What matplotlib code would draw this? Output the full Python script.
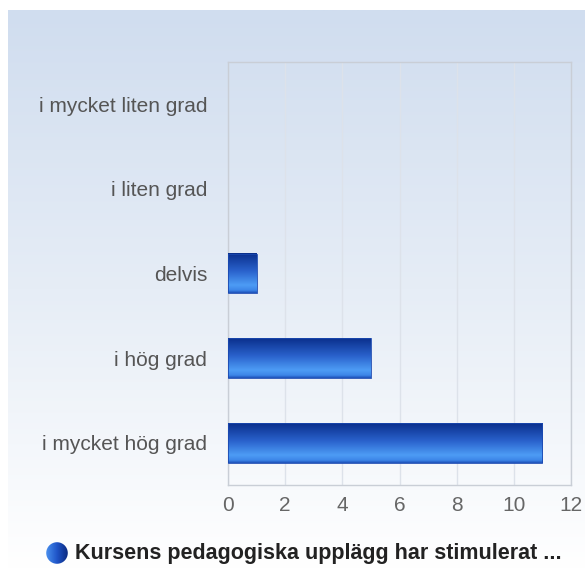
import numpy as np
import matplotlib as mpl
mpl.use('Agg')
import matplotlib.pyplot as plt
from matplotlib.colors import LinearSegmentedColormap

# data
categories = ['i mycket liten grad', 'i liten grad', 'delvis', 'i hög grad', 'i mycket hög grad']
counts = [0, 0, 1, 5, 11]
x_ticks = [0, 2, 4, 6, 8, 10, 12]
legend_label = 'Kursens pedagogiska upplägg har stimulerat ...'

plt.rcParams['font.family'] = ['Liberation Sans', 'DejaVu Sans']

W, H = 585, 569
fig = plt.figure(figsize=(W / 100, H / 100), dpi=100)
fig.patch.set_facecolor('white')

# background gradient panel
bg = fig.add_axes([8 / W, 0, 1 - 8 / W, 1 - 10 / H], zorder=0)
grad = np.linspace(0, 1, 256).reshape(-1, 1)
bg_cmap = LinearSegmentedColormap.from_list('bg', ['#d0ddef', '#e6edf6', '#ffffff'])
bg.imshow(grad, aspect='auto', cmap=bg_cmap, extent=[0, 1, 0, 1], origin='upper')
bg.set_axis_off()

ax = fig.add_axes([228 / W, 1 - 485 / H, (571 - 228) / W, (485 - 62) / H], zorder=1)
ax.patch.set_alpha(0)

y = np.arange(len(categories))
bar_h = 0.47
bars = ax.barh(y, counts, height=bar_h, color='none', edgecolor='none')

# vertical gradient inside each bar: dark top, light near bottom, dark edge
bar_cmap = LinearSegmentedColormap.from_list(
    'bar', [(0, '#0a2f8c'), (0.45, '#2a62cc'), (0.8, '#4d9cf5'), (0.93, '#3d86e8'), (1, '#1c4fb8')])
for b in bars:
    w = b.get_width()
    if w <= 0:
        continue
    y0 = b.get_y()
    hh = b.get_height()
    ax.imshow(grad, aspect='auto', cmap=bar_cmap, origin='upper',
              extent=[0, w, y0 + hh, y0], zorder=3, interpolation='bilinear')
    ax.add_patch(plt.Rectangle((0, y0), w, hh, fill=False, edgecolor='#1a48b0',
                               linewidth=0.6, zorder=4))

ax.set_xlim(0, 12)
ax.set_ylim(len(categories) - 0.5, -0.5)
ax.set_xticks(x_ticks)
ax.set_yticks(y)
ax.set_yticklabels(categories)
ax.grid(axis='x', color='#dde2ea', linewidth=1)
ax.set_axisbelow(True)
for s in ax.spines.values():
    s.set_color('#c9ced6')
    s.set_linewidth(1)
ax.tick_params(axis='both', length=0)
ax.tick_params(axis='y', labelsize=15, labelcolor='#555555', pad=15)
ax.tick_params(axis='x', labelsize=15, labelcolor='#666666', pad=8)

# legend: sphere-ish marker with horizontal shading
sphere = fig.add_axes([46 / W, 1 - 564 / H, 22 / W, 22 / H], zorder=2)
sx = np.linspace(0, 1, 64)
sphere_cmap = LinearSegmentedColormap.from_list('sph', ['#4a90ee', '#1f55c8', '#0b2a80'])
im = sphere.imshow(np.tile(sx, (64, 1)), cmap=sphere_cmap, extent=[-1, 1, -1, 1],
                   interpolation='bilinear')
clip = plt.Circle((0, 0), 0.98, transform=sphere.transData)
im.set_clip_path(clip)
sphere.set_xlim(-1, 1)
sphere.set_ylim(-1, 1)
sphere.set_axis_off()

fig.text(75 / W, 1 - 553 / H, legend_label, fontsize=15.5, fontweight='bold',
         color='#222222', ha='left', va='center')

fig.savefig('out.png', dpi=100)
